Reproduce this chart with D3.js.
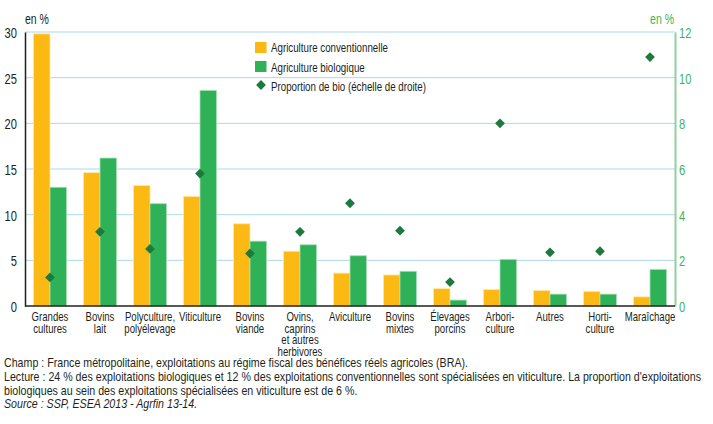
<!DOCTYPE html>
<html>
<head>
<meta charset="utf-8">
<script src="https://cdn.jsdelivr.net/npm/d3@7"></script>
<style>
  body { margin: 0; background: #fff; }
  svg { font-family: "Liberation Sans", Arial, sans-serif; }
</style>
</head>
<body>
<svg id="chart" width="713" height="424"></svg>
<script>
// data
var categories = ["Grandes cultures", "Bovins lait", "Polyculture, polyélevage", "Viticulture",
	"Bovins viande", "Ovins, caprins et autres herbivores", "Aviculture", "Bovins mixtes",
	"Élevages porcins", "Arboriculture", "Autres", "Horticulture", "Maraîchage"];
var categoryLabels = [
	["Grandes", "cultures"], ["Bovins", "lait"], ["Polyculture,", "polyélevage"], ["Viticulture"],
	["Bovins", "viande"], ["Ovins,", "caprins", "et autres", "herbivores"], ["Aviculture"],
	["Bovins", "mixtes"], ["Élevages", "porcins"], ["Arbori-", "culture"], ["Autres"],
	["Horti-", "culture"], ["Maraîchage"]];
var conventionnelle = [29.8, 14.6, 13.2, 12.0, 9.0, 6.0, 3.6, 3.4, 1.9, 1.8, 1.7, 1.6, 1.0];
var biologique = [13.0, 16.2, 11.2, 23.6, 7.1, 6.7, 5.5, 3.8, 0.65, 5.1, 1.3, 1.3, 4.0];
var proportionBio = [1.25, 3.25, 2.5, 5.8, 2.3, 3.25, 4.5, 3.3, 1.05, 8.0, 2.35, 2.4, 10.9];
var leftTicks = [0, 5, 10, 15, 20, 25, 30];
var rightTicks = [0, 2, 4, 6, 8, 10, 12];
var legendNames = ["Agriculture conventionnelle", "Agriculture biologique", "Proportion de bio (échelle de droite)"];
var noteLines = [
	"Champ : France métropolitaine, exploitations au régime fiscal des bénéfices réels agricoles (BRA).",
	"Lecture : 24 % des exploitations biologiques et 12 % des exploitations conventionnelles sont spécialisées en viticulture. La proportion d'exploitations",
	"biologiques au sein des exploitations spécialisées en viticulture est de 6 %."
];
var sourceLine = "Source : SSP, ESEA 2013 - Agrfin 13-14.";

var colors = { conv: "#fdb913", bio: "#2fb257", convEdge: "#fde7a8", bioEdge: "#a6dcb4", diamond: "#1d7a3c" };
var ink = "#231f20", green = "#3db45a";

var svg = d3.select("#chart");
var marginL = 25, marginR = 675, marginT = 32, marginB = 306;

// the original uses a condensed face: squeeze Liberation Sans horizontally
function place(sel, px, py, sx) {
	sel.attr("transform", function(d, i) {
		var a = typeof px === "function" ? px(d, i) : px;
		var b = typeof py === "function" ? py(d, i) : py;
		return "translate(" + a + "," + b + ") scale(" + sx + ",1)";
	});
}

var x = d3.scaleBand().domain(categories).range([marginL, marginR]).paddingInner(0.34).paddingOuter(0.17);
var xs = d3.scaleBand().domain(["conv", "bio"]).range([0, x.bandwidth()]);
var y = d3.scaleLinear().domain([0, 30]).range([marginB, marginT]);
var y2 = d3.scaleLinear().domain([0, 12]).range([marginB, marginT]);

// gridlines
svg.append("g").selectAll("line")
	.data(leftTicks.slice(1))
	.enter().append("line")
	.attr("x1", marginL).attr("x2", marginR)
	.attr("y1", function(d) { return y(d); })
	.attr("y2", function(d) { return y(d); })
	.attr("stroke", "#a9d9ee").attr("stroke-width", 1);

// left axis
var yAxis = svg.append("g")
	.attr("transform", "translate(" + marginL + ",0)")
	.call(d3.axisLeft(y).tickValues(leftTicks).tickSize(0).tickPadding(0));
yAxis.select(".domain").attr("stroke", ink).attr("stroke-width", 1.5);
yAxis.selectAll("text").attr("font-size", 15.5).attr("fill", ink).attr("font-family", null)
	.attr("x", null).attr("dy", "0.36em");
place(yAxis.selectAll("text"), -8, 0, 0.72);

// right axis
var yAxis2 = svg.append("g")
	.attr("transform", "translate(" + marginR + ",0)")
	.call(d3.axisRight(y2).tickValues(rightTicks).tickSize(0).tickPadding(0));
yAxis2.select(".domain").attr("stroke", "#8fd19b").attr("stroke-width", 2);
yAxis2.selectAll("text").attr("font-size", 15.5).attr("fill", green).attr("font-family", null)
	.attr("x", null).attr("dy", "0.36em");
place(yAxis2.selectAll("text"), 4, 0, 0.72);

// bars
var groups = svg.append("g").selectAll("g")
	.data(categories)
	.enter().append("g")
	.attr("transform", function(d) { return "translate(" + x(d) + ",0)"; });

groups.append("rect")
	.attr("x", xs("conv"))
	.attr("width", xs.bandwidth())
	.attr("y", function(d, i) { return y(conventionnelle[i]); })
	.attr("height", function(d, i) { return y(0) - y(conventionnelle[i]); })
	.attr("fill", colors.conv)
	.attr("stroke", colors.convEdge).attr("stroke-width", 0.8);

groups.append("rect")
	.attr("x", xs("bio"))
	.attr("width", xs.bandwidth())
	.attr("y", function(d, i) { return y(biologique[i]); })
	.attr("height", function(d, i) { return y(0) - y(biologique[i]); })
	.attr("fill", colors.bio)
	.attr("stroke", colors.bioEdge).attr("stroke-width", 0.8);

// bottom axis line
svg.append("line")
	.attr("x1", marginL).attr("x2", marginR)
	.attr("y1", y(0)).attr("y2", y(0))
	.attr("stroke", ink).attr("stroke-width", 1.5);

// diamonds
var diamond = d3.symbol().type(d3.symbolSquare).size(48);
svg.append("g").selectAll("path")
	.data(categories)
	.enter().append("path")
	.attr("d", diamond)
	.attr("transform", function(d, i) {
		return "translate(" + (x(d) + x.bandwidth() / 2) + "," + y2(proportionBio[i]) + ") rotate(45)";
	})
	.attr("fill", colors.diamond);

// category labels
var labels = svg.append("g").selectAll("text")
	.data(categories)
	.enter().append("text")
	.attr("text-anchor", "middle")
	.attr("font-size", 13)
	.attr("fill", ink);
place(labels, function(d) { return x(d) + x.bandwidth() / 2; }, 321, 0.74);
labels.selectAll("tspan")
	.data(function(d, i) { return categoryLabels[i]; })
	.enter().append("tspan")
	.attr("x", 0)
	.attr("dy", function(d, i) { return i === 0 ? 0 : 11.6; })
	.text(function(d) { return d; });

// unit labels
place(svg.append("text").attr("font-size", 14).attr("fill", ink).text("en %"), 25, 24, 0.75);
place(svg.append("text").attr("font-size", 14).attr("text-anchor", "end").attr("fill", green).text("en %"), 674, 24, 0.75);

// legend
var legend = svg.append("g").attr("transform", "translate(255,42)");
legend.append("rect").attr("x", 0).attr("y", 0).attr("width", 11.5).attr("height", 11).attr("fill", colors.conv);
legend.append("rect").attr("x", 0).attr("y", 19).attr("width", 11.5).attr("height", 11).attr("fill", colors.bio);
legend.append("path").attr("d", diamond).attr("transform", "translate(6,43) rotate(45)").attr("fill", colors.diamond);
var legendText = legend.selectAll("text.lg")
	.data(legendNames)
	.enter().append("text")
	.attr("class", "lg")
	.attr("font-size", 13)
	.attr("fill", ink)
	.text(function(d) { return d; });
place(legendText, 16, function(d, i) { return 10 + i * 19.5; }, 0.75);

// notes
var notes = svg.append("g").selectAll("text")
	.data(noteLines)
	.enter().append("text")
	.attr("font-size", 13)
	.attr("fill", ink)
	.text(function(d) { return d; });
place(notes, 4, function(d, i) { return 367 + i * 14; }, 0.82);
place(svg.append("text").attr("font-size", 13).attr("font-style", "italic")
	.attr("fill", ink).text(sourceLine), 4, 408, 0.82);
</script>
</body>
</html>
